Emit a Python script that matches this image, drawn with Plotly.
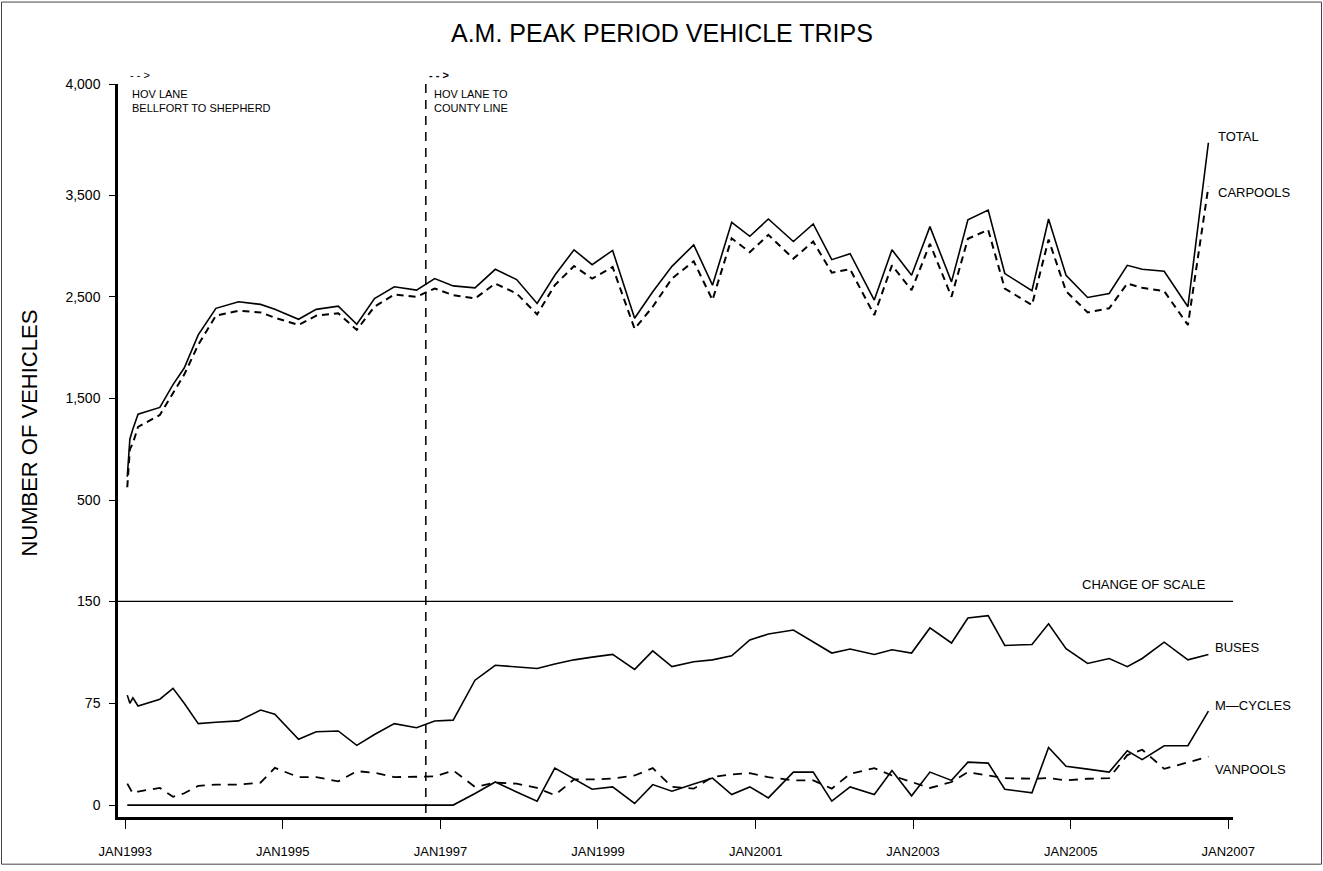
import plotly.graph_objects as go

# ---------------- data ----------------
DATES = [
    "1993-01-10", "1993-01-22", "1993-02-05", "1993-03-01", "1993-06-10", "1993-08-10",
    "1993-10-01", "1993-12-05", "1994-02-25", "1994-06-10", "1994-09-20", "1994-11-25",
    "1995-03-15", "1995-06-05", "1995-09-15", "1995-12-10", "1996-03-01", "1996-06-01",
    "1996-09-12", "1996-12-05", "1997-03-01", "1997-06-10", "1997-09-12", "1997-12-20",
    "1998-03-25", "1998-06-15", "1998-09-12", "1998-12-05", "1999-03-10", "1999-06-20",
    "1999-09-12", "1999-12-10", "2000-03-20", "2000-06-15", "2000-09-12", "2000-12-05",
    "2001-03-01", "2001-06-25", "2001-09-25", "2001-12-20", "2002-03-15", "2002-07-05",
    "2002-09-25", "2002-12-25", "2003-03-20", "2003-06-28", "2003-09-12", "2003-12-15",
    "2004-03-01", "2004-07-05", "2004-09-20", "2004-12-10", "2005-03-20", "2005-06-28",
    "2005-09-20", "2005-11-28", "2006-03-10", "2006-06-28", "2006-10-01",
]
TOTAL = [
    730, 1100, 1200, 1345, 1412, 1637, 1800, 2126, 2387, 2452, 2426, 2377,
    2279, 2377, 2409, 2230, 2484, 2599, 2566, 2680, 2608, 2589, 2771, 2670,
    2435, 2712, 2963, 2817, 2957, 2289, 2550, 2800, 3012, 2615, 3233, 3096,
    3266, 3044, 3217, 2866, 2924, 2468, 2963, 2712, 3191, 2647, 3257, 3354,
    2729, 2560, 3266, 2712, 2494, 2533, 2810, 2771, 2752, 2403, 4016,
]
CARPOOLS = [
    627, 1000, 1060, 1220, 1338, 1546, 1735, 2028, 2315, 2364, 2347, 2295,
    2223, 2315, 2338, 2175, 2403, 2523, 2501, 2582, 2517, 2484, 2631, 2533,
    2328, 2615, 2803, 2680, 2793, 2185, 2403, 2680, 2850, 2468, 3076, 2940,
    3110, 2876, 3044, 2738, 2771, 2321, 2810, 2566, 3022, 2501, 3071, 3159,
    2582, 2419, 3064, 2556, 2347, 2387, 2631, 2589, 2556, 2223, 3585,
]
BUSES = [
    81, 75, 79, 73, 78, 86, 75, 60, 61, 62, 70, 67,
    48.5, 54, 54.6, 44, 52, 60, 57, 62, 62.6, 92, 103, 101.7,
    100.6, 104, 107, 109, 111, 100, 113.6, 102, 105.6, 107, 110, 121.7,
    126, 129, 120, 112, 115, 111, 114.4, 112, 130.5, 119.4, 137.8, 139.6,
    117.6, 118.3, 133.5, 115.2, 104.3, 108, 102, 108, 120, 107, 111,
]
MCYCLES = [
    0, 0, 0, 0, 0, 0, 0, 0, 0, 0, 0, 0,
    0, 0, 0, 0, 0, 0, 0, 0, 0, 8.5, 17, 9.7,
    2.9, 27.2, 18.9, 11.7, 13.4, 1.2, 15.1, 10.2, 15.5, 19.9, 7.8, 13.4,
    5.3, 24.3, 24.3, 2.9, 13.4, 7.8, 25.5, 6.8, 24.3, 18.2, 31.6, 30.9,
    11.7, 9.0, 42.5, 28.6, 26.5, 24.3, 40.0, 33.5, 43.7, 43.7, 69.2,
]
VANPOOLS = [
    15.8, 12, 8.5, 10, 12.6, 6.1, 8.7, 14.1, 15.1, 15.1, 16.5, 27.4,
    20.6, 20.6, 17.5, 25.0, 23.8, 20.6, 20.6, 21.1, 25.5, 13.4, 16.5, 15.8,
    12.6, 7.3, 18.9, 18.9, 19.5, 21.8, 27.2, 13.5, 12.1, 20.6, 22.6, 23.5,
    20.6, 18.2, 18.2, 12.1, 23.1, 27.2, 21.8, 17.0, 12.6, 17.0, 24.3, 21.8,
    19.9, 19.4, 19.9, 18.2, 19.4, 19.9, 36.8, 40.8, 26.7, 31.5, 35.7,
]

X_TICK_VALS = ["1993-01-01", "1995-01-01", "1997-01-01", "1999-01-01",
               "2001-01-01", "2003-01-01", "2005-01-01", "2007-01-01"]
X_TICK_TEXT = ["JAN1993", "JAN1995", "JAN1997", "JAN1999",
               "JAN2001", "JAN2003", "JAN2005", "JAN2007"]
# the source labels the top end of its upper axis "4,000"
UPPER_TICK_VALS = [500, 1500, 2500, 3500, 4594]
UPPER_TICK_TEXT = ["500", "1,500", "2,500", "3,500", "4,000"]
LOWER_TICK_VALS = [0, 75, 150]
LOWER_TICK_TEXT = ["0", "75", "150"]
HOV_EXTENSION_DATE = "1996-10-25"

# ---------------- layout geometry ----------------
W, H = 1323, 871
L, R, T, B = 118, 1233, 84, 822          # plot area in page pixels
SPLIT = 605                              # change-of-scale line
PW, PH = R - L, B - T
LOW_TOP = (B - SPLIT) / PH

FONT = "Liberation Sans, Arial, sans-serif"


def px(xp):
    return (xp - L) / PW


def py(yp):
    return (B - yp) / PH


fig = go.Figure()

black = "#000000"
fig.add_trace(go.Scatter(x=DATES, y=TOTAL, mode="lines", xaxis="x2", yaxis="y2",
                         line=dict(color=black, width=1.6), name="TOTAL"))
fig.add_trace(go.Scatter(x=DATES, y=CARPOOLS, mode="lines", xaxis="x2", yaxis="y2",
                         line=dict(color=black, width=2, dash="7px,5px"), name="CARPOOLS"))
fig.add_trace(go.Scatter(x=DATES, y=BUSES, mode="lines", xaxis="x", yaxis="y",
                         line=dict(color=black, width=1.6), name="BUSES"))
fig.add_trace(go.Scatter(x=DATES, y=MCYCLES, mode="lines", xaxis="x", yaxis="y",
                         line=dict(color=black, width=1.6), name="M-CYCLES"))
fig.add_trace(go.Scatter(x=DATES, y=VANPOOLS, mode="lines", xaxis="x", yaxis="y",
                         line=dict(color=black, width=1.8, dash="9px,7px"), name="VANPOOLS"))

xrange = ["1992-11-28", "2007-01-23"]

fig.update_layout(
    width=W, height=H,
    margin=dict(l=L, r=W - R, t=T, b=H - B, pad=0),
    paper_bgcolor="white", plot_bgcolor="white",
    showlegend=False,
    font=dict(family=FONT, color=black, size=13),
    xaxis=dict(domain=[0, 1], range=xrange, type="date", anchor="y",
               showgrid=False, zeroline=False, showline=True, linecolor=black, linewidth=2.5,
               tickmode="array", tickvals=X_TICK_VALS, ticktext=X_TICK_TEXT,
               ticks="outside", ticklen=9, tickwidth=1.2, tickcolor=black,
               ticklabelstandoff=12, tickfont=dict(family=FONT, size=13)),
    xaxis2=dict(domain=[0, 1], range=xrange, type="date", anchor="y2", matches="x",
                showgrid=False, zeroline=False, showline=False, showticklabels=False, ticks=""),
    yaxis=dict(domain=[0, LOW_TOP], range=[-8.78, 150], anchor="x",
               showgrid=False, zeroline=False, showline=True, linecolor=black, linewidth=2.5,
               tickmode="array", tickvals=LOWER_TICK_VALS, ticktext=LOWER_TICK_TEXT,
               ticks="outside", ticklen=6, tickwidth=1, tickcolor=black,
               ticklabelstandoff=6, tickfont=dict(family=FONT, size=14)),
    yaxis2=dict(domain=[LOW_TOP, 1], range=[-496.8, 4594], anchor="x2",
                showgrid=False, zeroline=False, showline=True, linecolor=black, linewidth=2.5,
                tickmode="array", tickvals=UPPER_TICK_VALS, ticktext=UPPER_TICK_TEXT,
                ticks="outside", ticklen=6, tickwidth=1, tickcolor=black,
                ticklabelstandoff=6, tickfont=dict(family=FONT, size=14)),
)

shapes = [
    # change of scale line
    dict(type="line", xref="paper", yref="paper", x0=0, x1=1, y0=LOW_TOP, y1=LOW_TOP,
         line=dict(color=black, width=1.2)),
    # HOV lane extension marker
    dict(type="line", xref="x", yref="paper", x0=HOV_EXTENSION_DATE, x1=HOV_EXTENSION_DATE,
         y0=py(818), y1=py(80), line=dict(color=black, width=1.5, dash="9px,7px")),
    # page border
    dict(type="rect", xref="paper", yref="paper", x0=px(1.5), x1=px(1321.5),
         y0=py(869.5), y1=py(1.5), line=dict(color="#444444", width=1)),
]
fig.update_layout(shapes=shapes)

ann = []


def add_text(text, xp, yp, size=13, xanchor="left", **kw):
    ann.append(dict(text=text, x=px(xp), y=py(yp), xref="paper", yref="paper",
                    showarrow=False, xanchor=xanchor, yanchor="middle",
                    font=dict(family=FONT, size=size, color=black), **kw))


add_text("A.M. PEAK PERIOD VEHICLE TRIPS", 662, 33, size=25, xanchor="center")
add_text("NUMBER OF VEHICLES", 30, 436, size=22, xanchor="center", textangle=-90)

add_text("- - &gt;", 128, 75, size=11)
add_text("HOV LANE", 130, 94, size=11)
add_text("BELLFORT TO SHEPHERD", 130, 108, size=11)
add_text("<b>- - &gt;</b>", 427, 75, size=11)
add_text("HOV LANE TO", 432, 94, size=11)
add_text("COUNTY LINE", 432, 108, size=11)

add_text("TOTAL", 1216, 137, size=13)
add_text("CARPOOLS", 1216, 193, size=13)
add_text("CHANGE OF SCALE", 1208, 588, size=13, xanchor="right")
add_text("BUSES", 1213, 651, size=13)
add_text("M\u2014CYCLES", 1213, 710, size=13)
add_text("VANPOOLS", 1213, 774, size=13)

fig.update_layout(annotations=ann)

fig.write_html("out.html", config={"displayModeBar": False},
               post_script="document.body.style.margin='0';")
